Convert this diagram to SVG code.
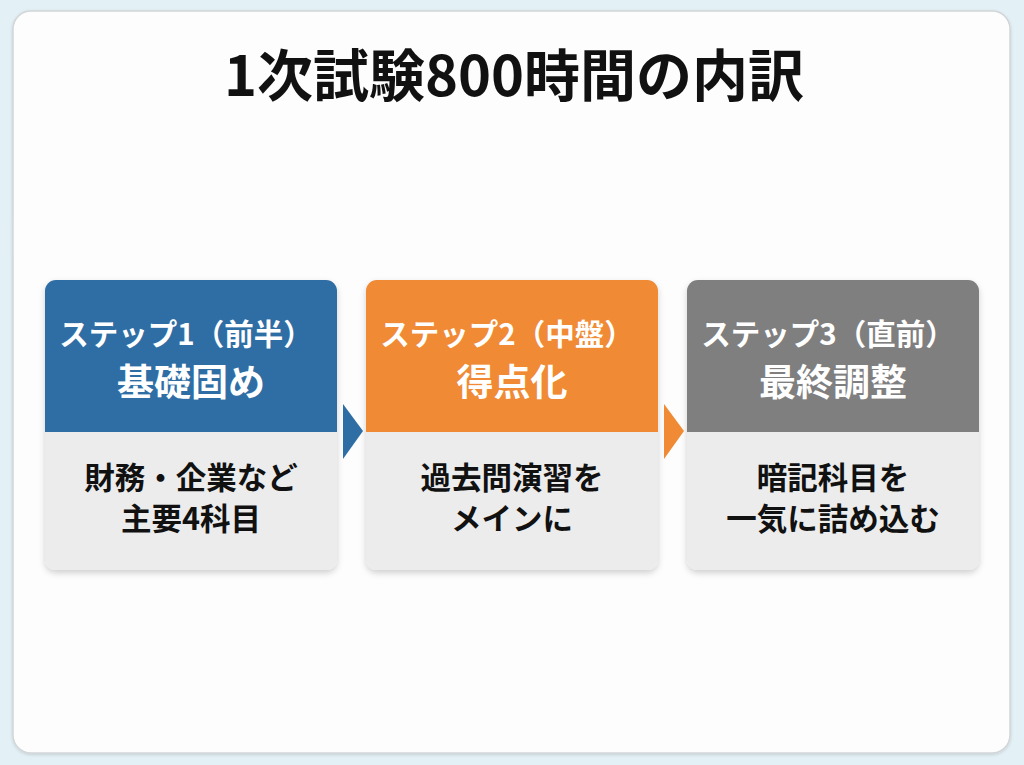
<svg xmlns="http://www.w3.org/2000/svg" width="1024" height="765" viewBox="0 0 1024 765">
<defs>
<style>
text{font-family:"Noto Sans CJK JP","Noto Sans",sans-serif;font-weight:700;text-anchor:middle}
.title{font-size:56px;fill:#111}
.hd{font-size:29.5px;fill:#fff}
.hd2{font-size:37px;fill:#fff}
.bd{font-size:30.5px;fill:#111}
</style>
<filter id="sh" x="-10%" y="-10%" width="120%" height="125%">
<feDropShadow dx="0" dy="3" stdDeviation="3" flood-color="#000" flood-opacity="0.18"/>
</filter>
<filter id="sh2" x="-5%" y="-5%" width="110%" height="110%">
<feDropShadow dx="0" dy="1" stdDeviation="1.5" flood-color="#000" flood-opacity="0.15"/>
</filter>
</defs>
<rect width="1024" height="765" fill="#e3f0f5"/>
<rect x="13" y="11" width="997" height="742" rx="18" fill="#fdfdfd" stroke="#d2d6d8" stroke-width="1.5" filter="url(#sh2)"/>
<text class="title" x="514" y="96">1次試験800時間の内訳</text>

<g id="step1">
<rect x="45" y="280" width="292" height="290" rx="11" fill="#ececec" filter="url(#sh)"/>
<path d="M45 432 V291 a11 11 0 0 1 11 -11 H326 a11 11 0 0 1 11 11 V432 Z" fill="#2f6ea5"/>
<text class="hd" x="186" y="345">ステップ1（前半）</text>
<text class="hd2" x="191" y="396">基礎固め</text>
<text class="bd" x="191" y="489">財務・企業など</text>
<text class="bd" x="191" y="530">主要4科目</text>
</g>

<g id="step2">
<rect x="366" y="280" width="292" height="290" rx="11" fill="#ececec" filter="url(#sh)"/>
<path d="M366 432 V291 a11 11 0 0 1 11 -11 H647 a11 11 0 0 1 11 11 V432 Z" fill="#f08a34"/>
<text class="hd" x="507" y="345">ステップ2（中盤）</text>
<text class="hd2" x="512" y="396">得点化</text>
<text class="bd" x="512" y="489">過去問演習を</text>
<text class="bd" x="512" y="530">メインに</text>
</g>

<g id="step3">
<rect x="687" y="280" width="292" height="290" rx="11" fill="#ececec" filter="url(#sh)"/>
<path d="M687 432 V291 a11 11 0 0 1 11 -11 H968 a11 11 0 0 1 11 11 V432 Z" fill="#7f7f7f"/>
<text class="hd" x="828" y="345">ステップ3（直前）</text>
<text class="hd2" x="833" y="396">最終調整</text>
<text class="bd" x="833" y="489">暗記科目を</text>
<text class="bd" x="833" y="530">一気に詰め込む</text>
</g>

<g id="connectors">
<polygon points="343,404 363,431 343,459" fill="#2f6ea5"/>
<polygon points="664,404 684,431 664,459" fill="#f08a34"/>
</g>
</svg>
